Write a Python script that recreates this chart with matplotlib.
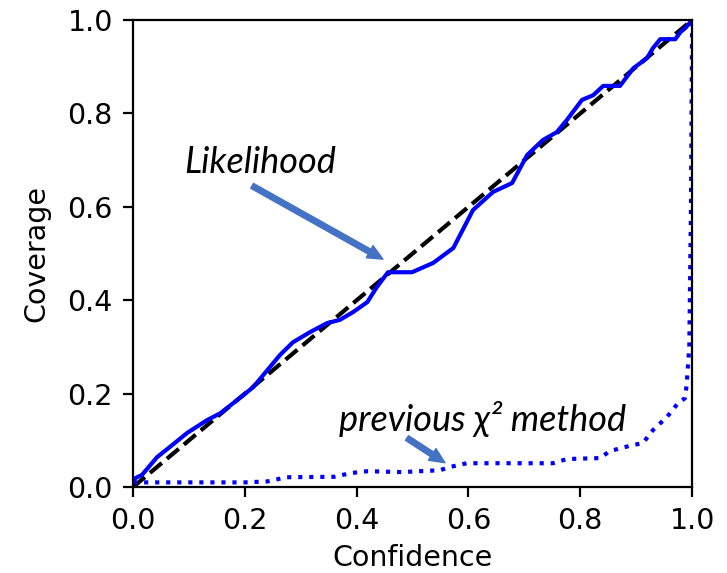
import matplotlib
matplotlib.use("Agg")
import matplotlib.pyplot as plt

# likelihood-based coverage curve
conf_lik = [0.0, 0.004, 0.016, 0.043, 0.066, 0.097, 0.132, 0.156, 0.186, 0.215,
            0.24, 0.263, 0.286, 0.317, 0.347, 0.37, 0.394, 0.419, 0.436, 0.456,
            0.474, 0.499, 0.537, 0.573, 0.608, 0.644, 0.678, 0.705, 0.733, 0.758,
            0.776, 0.803, 0.823, 0.841, 0.871, 0.895, 0.919, 0.93, 0.943, 0.97,
            0.979, 0.988, 1.0]
cov_lik = [0.01, 0.019, 0.026, 0.064, 0.086, 0.116, 0.143, 0.158, 0.186, 0.214,
           0.25, 0.283, 0.31, 0.332, 0.351, 0.358, 0.375, 0.396, 0.428, 0.46,
           0.46, 0.46, 0.48, 0.512, 0.593, 0.632, 0.651, 0.711, 0.743, 0.76,
           0.786, 0.829, 0.839, 0.859, 0.859, 0.897, 0.918, 0.94, 0.959, 0.959,
           0.974, 0.983, 1.0]

# old chi-square coverage curve
conf_chi = [0.0, 0.1, 0.2, 0.24, 0.275, 0.36, 0.39, 0.42, 0.48, 0.549, 0.567,
            0.597, 0.751, 0.776, 0.835, 0.853, 0.894, 0.912, 0.93, 0.955, 0.975,
            0.987, 0.99, 0.995, 0.998, 1.0]
cov_chi = [0.01, 0.01, 0.01, 0.012, 0.021, 0.022, 0.03, 0.034, 0.032, 0.036, 0.043,
           0.051, 0.051, 0.06, 0.062, 0.077, 0.09, 0.094, 0.122, 0.15, 0.18,
           0.19, 0.216, 0.3, 0.6, 1.0]

ticks = [0.0, 0.2, 0.4, 0.6, 0.8, 1.0]
FS = 20.5
ARROW_BLUE = "#4472C4"
NOTE_FONT = ["Lato", "DejaVu Sans"]

fig = plt.figure(figsize=(7.27, 5.73), dpi=100)
ax = fig.add_axes([0.183, 0.150, 0.769, 0.815])

ax.plot([0, 1], [0, 1], color="black", ls=(0, (3.7, 1.6)), lw=3.0)
ax.plot(conf_lik, cov_lik, color="blue", lw=3.0)
ax.plot(conf_chi, cov_chi, color="blue", ls=(0, (1, 1.65)), lw=3.0)

ax.set_xlim(0, 1)
ax.set_ylim(0, 1)
ax.set_xticks(ticks)
ax.set_yticks(ticks)
ax.set_xticklabels([f"{t:.1f}" for t in ticks])
ax.set_yticklabels([f"{t:.1f}" for t in ticks])
ax.tick_params(labelsize=FS, length=7.5, width=1.6, pad=7)
for s in ax.spines.values():
    s.set_linewidth(1.6)
ax.set_xlabel("Confidence", fontsize=FS, labelpad=6)
ax.set_ylabel("Coverage", fontsize=FS, labelpad=12)

# callouts
arrow = dict(arrowstyle="simple,head_width=1.0,head_length=1.1,tail_width=0.4",
             color=ARROW_BLUE, shrinkA=0, shrinkB=0)
ax.annotate("", xy=(0.447, 0.488), xytext=(0.213, 0.645), arrowprops=arrow)
ax.text(0.227, 0.696, "Likelihood", fontsize=26, style="italic",
        family=NOTE_FONT, ha="center", va="center")
ax.annotate("", xy=(0.558, 0.052), xytext=(0.490, 0.105), arrowprops=arrow)
ax.text(0.626, 0.145, "previous χ² method", fontsize=26, style="italic",
        family=NOTE_FONT, ha="center", va="center")

fig.savefig("out.png", dpi=100)
